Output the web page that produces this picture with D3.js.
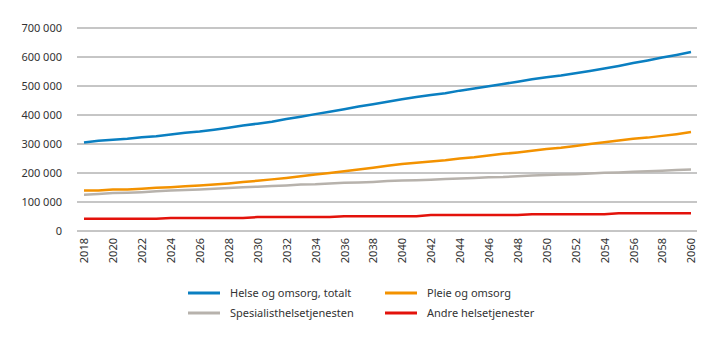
<!DOCTYPE html>
<html>
<head>
<meta charset="utf-8">
<script src="https://cdn.jsdelivr.net/npm/d3@7"></script>
<style>
  body { margin: 0; background: #fff; }
  text { font-family: "Noto Sans", sans-serif; fill: #333; }
</style>
</head>
<body>
<div id="chart"></div>
<script>
// Data
const years = d3.range(2018, 2061);
const yTicks = [0, 100000, 200000, 300000, 400000, 500000, 600000, 700000];
const xTickYears = d3.range(2018, 2061, 2);

const helseTotalt = [305000, 311000, 315000, 318000, 323000, 327000, 333000, 339000, 343000, 349000,
  356000, 364000, 370000, 377000, 386000, 394000, 403000, 411000, 420000, 429000,
  437000, 446000, 454000, 462000, 469000, 475000, 484000, 491000, 499000, 507000,
  515000, 523000, 530000, 536000, 544000, 552000, 560000, 569000, 579000, 588000,
  598000, 607000, 617000];
const pleie = [140000, 140000, 143000, 143000, 146000, 149000, 151000, 154000, 157000, 160000,
  164000, 169000, 173000, 178000, 183000, 189000, 195000, 200000, 206000, 212000,
  218000, 225000, 231000, 235000, 240000, 244000, 250000, 254000, 260000, 266000,
  271000, 277000, 283000, 287000, 293000, 300000, 306000, 312000, 318000, 322000,
  328000, 334000, 341000];
const spesialist = [125000, 128000, 131000, 132000, 134000, 137000, 140000, 141000, 143000, 146000,
  148000, 151000, 153000, 155000, 157000, 160000, 161000, 164000, 166000, 167000,
  169000, 172000, 174000, 175000, 177000, 179000, 181000, 183000, 185000, 186000,
  189000, 191000, 193000, 195000, 196000, 198000, 201000, 202000, 204000, 206000,
  208000, 210000, 212000];
const andre = [42000, 42000, 42000, 42000, 42000, 42000, 45000, 45000, 45000, 45000,
  45000, 45000, 48000, 48000, 48000, 48000, 48000, 48000, 51000, 51000,
  51000, 51000, 51000, 51000, 55000, 55000, 55000, 55000, 55000, 55000,
  55000, 58000, 58000, 58000, 58000, 58000, 58000, 61000, 61000, 61000,
  61000, 61000, 61000];

const series = [
  { name: "Helse og omsorg, totalt", values: helseTotalt, color: "#0a7fc1" },
  { name: "Pleie og omsorg", values: pleie, color: "#f39200" },
  { name: "Spesialisthelsetjenesten", values: spesialist, color: "#b7b2ac" },
  { name: "Andre helsetjenester", values: andre, color: "#e3120b" }
];
const drawOrder = [series[2], series[1], series[3], series[0]];

const width = 719;
const height = 341;
const plot = { left: 77, right: 697, top: 28, bottom: 231 };

const svg = d3.select("#chart")
  .append("svg")
  .attr("width", width)
  .attr("height", height);

const x = d3.scaleLinear()
  .domain([2018, 2060])
  .range([84, 691]);

const y = d3.scaleLinear()
  .domain([0, 700000])
  .range([plot.bottom, plot.top]);

const fmt = (v) => d3.format(",")(v).replace(/,/g, " ");

// Gridlines
svg.append("g")
  .selectAll("line")
  .data(yTicks)
  .join("line")
  .attr("x1", plot.left)
  .attr("x2", plot.right)
  .attr("y1", (d) => y(d))
  .attr("y2", (d) => y(d))
  .attr("stroke", (d) => (d === 100000 || d === 700000 ? "#c6c6c6" : "#8c8c8c"))
  .attr("stroke-width", (d) => (d === 100000 || d === 700000 ? 2 : 1));

// Y axis labels
const yAxis = svg.append("g")
  .attr("transform", `translate(${plot.left - 15},0)`)
  .call(d3.axisLeft(y).tickValues(yTicks).tickFormat(fmt).tickSize(0).tickPadding(0));
yAxis.select(".domain").remove();
yAxis.selectAll("text")
  .attr("font-size", 11)
  .attr("font-family", "Noto Sans")
  .attr("fill", "#333");

// X axis labels (rotated)
const xAxis = svg.append("g")
  .attr("transform", `translate(0,${plot.bottom})`)
  .call(d3.axisBottom(x).tickValues(xTickYears).tickFormat(d3.format("d")).tickSize(0));
xAxis.select(".domain").remove();
xAxis.selectAll("text")
  .attr("font-size", 11)
  .attr("font-family", "Noto Sans")
  .attr("fill", "#333")
  .attr("transform", "rotate(-90)")
  .attr("text-anchor", "end")
  .attr("x", -7)
  .attr("y", 0)
  .attr("dy", "0.35em");

// Lines
const line = d3.line()
  .x((d, i) => x(years[i]))
  .y((d) => y(d));

svg.append("g")
  .selectAll("path")
  .data(drawOrder)
  .join("path")
  .attr("d", (d) => line(d.values))
  .attr("fill", "none")
  .attr("stroke", (d) => d.color)
  .attr("stroke-width", 2.5)
  .attr("stroke-linejoin", "round");

// Legend
const legendPos = [
  { x: 188, y: 293 },
  { x: 385, y: 293 },
  { x: 188, y: 313 },
  { x: 385, y: 313 }
];
const legend = svg.append("g")
  .selectAll("g")
  .data(series)
  .join("g")
  .attr("transform", (d, i) => `translate(${legendPos[i].x},${legendPos[i].y})`);

legend.append("line")
  .attr("x1", 0)
  .attr("x2", 32)
  .attr("stroke", (d) => d.color)
  .attr("stroke-width", 3);

legend.append("text")
  .attr("x", 42)
  .attr("dy", "0.35em")
  .attr("font-size", 11)
  .text((d) => d.name);
</script>
</body>
</html>
